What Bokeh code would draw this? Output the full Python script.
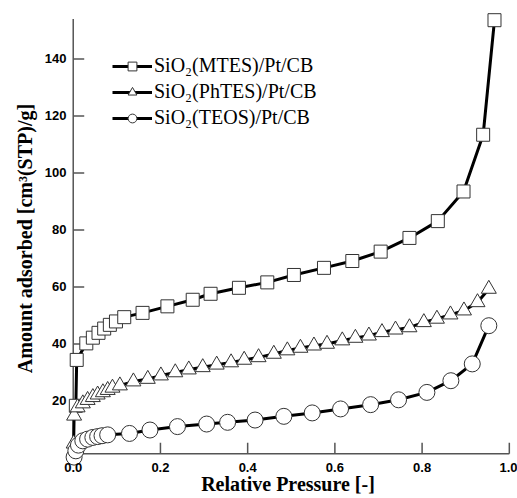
from bokeh.plotting import figure
from bokeh.models import Range1d, LinearAxis, FixedTicker, Legend, LegendItem, NumeralTickFormatter
from bokeh.embed import file_html
from bokeh.resources import INLINE
import math

# Data
mtes_x = [0.006, 0.008, 0.030, 0.045, 0.058, 0.071, 0.084, 0.098, 0.117, 0.159, 0.216, 0.274,
          0.315, 0.380, 0.445, 0.506, 0.575, 0.640, 0.705, 0.771, 0.836, 0.895, 0.940, 0.966]
mtes_y = [18.3, 34.4, 40.2, 42.2, 43.9, 45.4, 46.7, 47.9, 49.4, 50.9, 53.2, 55.5,
          57.6, 59.7, 61.6, 64.2, 66.7, 69.1, 72.4, 77.2, 83.1, 93.5, 113.4, 153.6]

phtes_x = [0.001, 0.002, 0.010, 0.022, 0.033, 0.045, 0.056, 0.068, 0.079, 0.090, 0.107, 0.138,
           0.171, 0.201, 0.234, 0.265, 0.297, 0.329, 0.362, 0.392, 0.425, 0.460, 0.491, 0.521,
           0.552, 0.582, 0.617, 0.647, 0.678, 0.708, 0.739, 0.771, 0.804, 0.834, 0.865, 0.896,
           0.927, 0.953]
phtes_y = [5.0, 14.8, 17.7, 19.1, 20.3, 21.3, 22.2, 23.0, 23.8, 24.6, 25.4, 26.8,
           27.7, 28.9, 30.0, 31.0, 31.8, 32.7, 33.5, 34.4, 35.3, 36.5, 37.7, 38.6,
           39.4, 40.0, 41.2, 42.1, 42.9, 44.1, 45.0, 45.8, 47.6, 48.8, 50.3, 51.7,
           54.6, 59.3]

teos_x = [0.002, 0.006, 0.012, 0.022, 0.033, 0.045, 0.056, 0.066, 0.079, 0.129, 0.176, 0.239,
          0.306, 0.354, 0.417, 0.483, 0.548, 0.613, 0.682, 0.746, 0.811, 0.866, 0.915, 0.953]
teos_y = [0.3, 2.5, 4.5, 6.0, 6.6, 7.2, 7.5, 7.8, 8.1, 8.6, 9.8, 11.0,
          11.9, 12.5, 13.3, 14.6, 15.8, 17.2, 18.7, 20.4, 23.0, 27.1, 33.0, 46.4]

labels = ["SiO\u2082(MTES)/Pt/CB", "SiO\u2082(PhTES)/Pt/CB", "SiO\u2082(TEOS)/Pt/CB"]
x_ticks = [0.0, 0.2, 0.4, 0.6, 0.8, 1.0]
y_ticks = [20, 40, 60, 80, 100, 120, 140]
x_axis_bounds = [0.0, 1.0]      # where the drawn x axis line runs
y_axis_bounds = [1.5, 154.0]    # where the drawn y axis line runs

p = figure(width=517, height=498, output_backend="svg", toolbar_location=None,
           x_range=Range1d(-0.02, 1.005), y_range=Range1d(-3, 157),
           x_axis_type=None, y_axis_type=None,
           min_border_left=64, min_border_right=6, min_border_top=10, min_border_bottom=32)
p.grid.visible = False
p.outline_line_color = None
p.background_fill_color = "white"
p.border_fill_color = "white"

AX_COL = "#555555"

def style_axis(ax):
    ax.axis_line_color = None
    ax.major_tick_line_color = None
    ax.minor_tick_line_color = None
    ax.major_tick_in = 0
    ax.major_tick_out = 0
    ax.major_label_text_font = "Liberation Sans"
    ax.major_label_text_font_style = "bold"
    ax.major_label_text_font_size = "13px"
    ax.major_label_text_color = "black"
    ax.axis_label_text_font = "Liberation Serif"
    ax.axis_label_text_font_style = "bold"
    ax.axis_label_text_font_size = "20px"
    ax.axis_label_text_color = "black"

xaxis = LinearAxis(ticker=FixedTicker(ticks=x_ticks),
                   formatter=NumeralTickFormatter(format="0.0"),
                   axis_label="Relative Pressure [-]")
style_axis(xaxis)
xaxis.major_label_standoff = -4
xaxis.axis_label_standoff = -2
p.add_layout(xaxis, "below")

yaxis = LinearAxis(ticker=FixedTicker(ticks=y_ticks),
                   axis_label="Amount adsorbed [cm\u00b3(STP)/g]")
style_axis(yaxis)
yaxis.major_label_standoff = -2
yaxis.axis_label_standoff = 6
p.add_layout(yaxis, "left")

# axis lines and inward ticks drawn at the data origin
p.segment(x0=[x_axis_bounds[0]], y0=[y_axis_bounds[0]], x1=[x_axis_bounds[1]], y1=[y_axis_bounds[0]],
          line_color=AX_COL, line_width=1.5)
p.segment(x0=[x_axis_bounds[0]], y0=[y_axis_bounds[0]], x1=[x_axis_bounds[0]], y1=[y_axis_bounds[1]],
          line_color=AX_COL, line_width=1.5)
p.ray(x=[x_axis_bounds[0]] * len(y_ticks), y=y_ticks, length=11, length_units="screen", angle=0,
      line_color=AX_COL, line_width=1.5)
p.ray(x=x_ticks, y=[y_axis_bounds[0]] * len(x_ticks), length=11, length_units="screen",
      angle=math.pi / 2, line_color=AX_COL, line_width=1.5)

items = []
for xs, ys, marker, size, lab in [(mtes_x, mtes_y, "square", 13, labels[0]),
                                  (phtes_x, phtes_y, "triangle", 15, labels[1]),
                                  (teos_x, teos_y, "circle", 16, labels[2])]:
    ln = p.line(xs, ys, line_color="black", line_width=3)
    sc = p.scatter(xs, ys, marker=marker, size=size, fill_color="white",
                   line_color="#333333", line_width=1)
    items.append(LegendItem(label=lab, renderers=[ln, sc]))

legend = Legend(items=items, location=(48, 337), padding=0, margin=0,
                border_line_color=None, background_fill_alpha=0,
                glyph_width=40, glyph_height=22, label_height=22, spacing=3,
                label_standoff=2, label_text_font="Liberation Serif",
                label_text_font_size="20px", label_text_color="black")
p.add_layout(legend)

open("out.html", "w").write(file_html(p, INLINE))
